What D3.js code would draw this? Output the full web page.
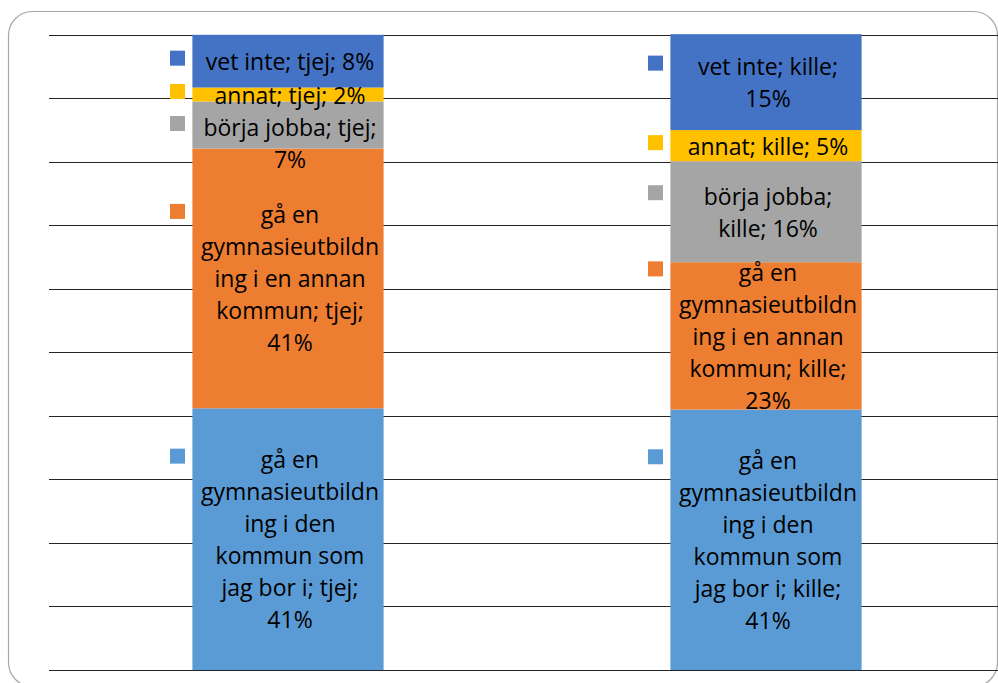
<!DOCTYPE html>
<html>
<head>
<meta charset="utf-8">
<script src="https://cdn.jsdelivr.net/npm/d3@7"></script>
<style>
  body { margin: 0; background: #fff; }
  svg { display: block; }
</style>
</head>
<body>
<div id="chart"></div>
<script>
// categories and series (stack order: bottom to top)
const categories = ["tjej", "kille"];
const seriesNames = [
  "gå en gymnasieutbildning i den kommun som jag bor i",
  "gå en gymnasieutbildning i en annan kommun",
  "börja jobba",
  "annat",
  "vet inte"
];
const tjejValues = [41.2, 40.9, 7.4, 2.2, 8.3];
const killeValues = [41.0, 23.2, 15.9, 4.9, 15.1];
const seriesColors = ["#5B9BD5", "#ED7D31", "#A5A5A5", "#FFC000", "#4472C4"];
const yTicks = [0, 10, 20, 30, 40, 50, 60, 70, 80, 90, 100];

const W = 998, H = 683;
const plot = { left: 49, right: 1005, top: 34.8, bottom: 670 };
const fontSize = 23, lineH = 32, wrapWidth = 181, keySize = 15;

// build rows for d3.stack
const valuesByCat = { tjej: tjejValues, kille: killeValues };
const rows = categories.map(function(c) {
  const r = { cat: c };
  seriesNames.forEach(function(s, i) { r[s] = valuesByCat[c][i]; });
  return r;
});

const svg = d3.select("#chart").append("svg")
  .attr("width", W).attr("height", H);

// chart frame
svg.append("rect")
  .attr("x", 8.5).attr("y", 11.5)
  .attr("width", 989).attr("height", 675)
  .attr("rx", 24).attr("ry", 24)
  .attr("fill", "#fff")
  .attr("stroke", "#a6a6a6")
  .attr("stroke-width", 1.2);

const x = d3.scaleBand()
  .domain(categories)
  .range([plot.left, plot.right])
  .paddingInner(0.6)
  .paddingOuter(0.3);

const y = d3.scaleLinear()
  .domain([0, 100])
  .range([plot.bottom, plot.top]);

// gridlines
const grid = svg.append("g")
  .attr("transform", "translate(" + plot.left + ",0)")
  .call(d3.axisLeft(y).tickValues(yTicks).tickSize(-(W - plot.left)).tickFormat(""));
grid.select(".domain").remove();
grid.selectAll(".tick line")
  .attr("stroke", "#262626")
  .attr("stroke-width", 1)
  .attr("shape-rendering", "crispEdges");

const stacked = d3.stack().keys(seriesNames)(rows);

// bars
svg.append("g").selectAll("g")
  .data(stacked)
  .enter().append("g")
   .attr("fill", function(d, i) { return seriesColors[i]; })
  .selectAll("rect")
  .data(function(d) { return d; })
  .enter().append("rect")
   .attr("x", function(d) { return x(d.data.cat); })
   .attr("y", function(d) { return y(d[1]); })
   .attr("width", x.bandwidth())
   .attr("height", function(d) { return y(d[0]) - y(d[1]); });

// text measuring helper
const measure = svg.append("text")
  .attr("font-family", "Open Sans")
  .attr("font-size", fontSize)
  .attr("visibility", "hidden");
function textWidth(s) {
  measure.text(s);
  return measure.node().getComputedTextLength();
}

// wrap words, breaking long words by characters like Excel does
function wrap(str, maxW) {
  const words = str.split(" ");
  const lines = [];
  let cur = "";
  words.forEach(function(w) {
    const test = cur ? cur + " " + w : w;
    if (textWidth(test) <= maxW) { cur = test; return; }
    if (cur) { lines.push(cur); cur = ""; }
    let rest = w;
    while (textWidth(rest) > maxW) {
      let n = rest.length;
      while (n > 1 && textWidth(rest.slice(0, n)) > maxW) n--;
      lines.push(rest.slice(0, n));
      rest = rest.slice(n);
    }
    cur = rest;
  });
  if (cur) lines.push(cur);
  return lines;
}

// data labels with legend keys, top segment first so lower ones get pushed down
const labelsG = svg.append("g");
categories.forEach(function(c, ci) {
  const cx = x(c) + x.bandwidth() / 2;
  let prevBottom = -Infinity;
  for (let si = seriesNames.length - 1; si >= 0; si--) {
    const seg = stacked[si][ci];
    const mid = (y(seg[0]) + y(seg[1])) / 2;
    const txt = seriesNames[si] + "; " + c + "; " + Math.round(seg[1] - seg[0]) + "%";
    const lines = wrap(txt, wrapWidth);
    let top = mid - lines.length * lineH / 2;
    if (top < prevBottom) top = prevBottom;
    prevBottom = top + lines.length * lineH;
    const first = top + lineH / 2;

    labelsG.append("rect")
      .attr("x", cx - 118)
      .attr("y", first - 3 - keySize / 2)
      .attr("width", keySize).attr("height", keySize)
      .attr("fill", seriesColors[si]);

    labelsG.append("g").selectAll("text")
      .data(lines)
      .enter().append("text")
       .attr("x", cx + 2)
       .attr("y", function(d, i) { return first + i * lineH; })
       .attr("text-anchor", "middle")
       .attr("dominant-baseline", "central")
       .attr("font-family", "Open Sans")
       .attr("font-size", fontSize)
       .attr("fill", "#000")
       .text(function(d) { return d; });
  }
});
measure.remove();
</script>
</body>
</html>
